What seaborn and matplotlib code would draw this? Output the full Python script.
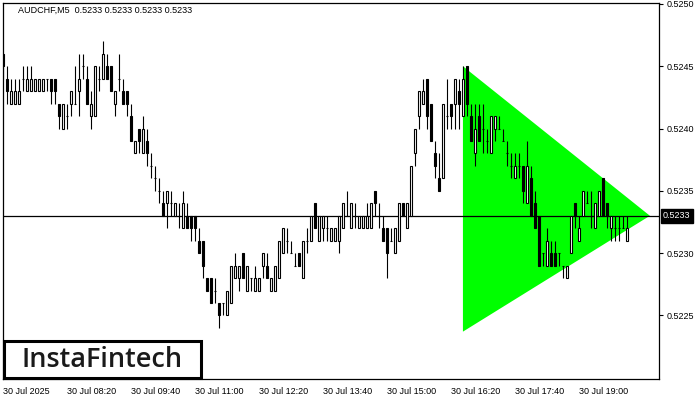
import numpy as np
import pandas as pd
import matplotlib
matplotlib.use("Agg")
import matplotlib.pyplot as plt
import matplotlib.transforms as mtransforms
from matplotlib.patches import Rectangle
import seaborn as sns

# ---- data (prices in units of 0.0001) ----
header = "AUDCHF,M5  0.5233 0.5233 0.5233 0.5233"
opens = [5246, 5244, 5242, 5242, 5242, 5244, 5243, 5243, 5243, 5243, 5243, 5244, 5244, 5244, 5242, 5240,
         5241, 5242, 5242, 5243, 5245, 5244, 5241, 5241, 5244, 5244, 5245, 5245, 5242, 5244, 5243, 5243,
         5241, 5238, 5240, 5238, 5239, 5237, 5236, 5235, 5234, 5234, 5234, 5233, 5233, 5232, 5233, 5233,
         5233, 5231, 5231, 5228, 5228, 5227, 5226, 5226, 5225, 5226, 5228, 5228, 5230, 5227, 5228, 5227,
         5227, 5229, 5229, 5227, 5227, 5228, 5230, 5231, 5230, 5229, 5230, 5228, 5231, 5231, 5234, 5231,
         5232, 5232, 5231, 5231, 5231, 5232, 5233, 5232, 5233, 5232, 5232, 5232, 5232, 5235, 5233, 5232,
         5232, 5231, 5230, 5231, 5234, 5232, 5233, 5238, 5241, 5242, 5244, 5242, 5238, 5236, 5236, 5241,
         5242, 5242, 5243, 5241, 5245, 5241, 5238, 5241, 5240, 5239, 5238, 5240, 5240, 5239, 5238, 5237,
         5236, 5237, 5237, 5234, 5236, 5234, 5233, 5230, 5229, 5230, 5230, 5230, 5229, 5228, 5230, 5234,
         5231, 5233, 5234, 5233, 5232, 5233, 5236, 5234, 5232, 5232, 5232, 5232, 5231]
highs = [5246, 5245, 5244, 5244, 5244, 5245, 5245, 5245, 5244, 5244, 5244, 5244, 5244, 5244, 5242, 5242,
         5242, 5243, 5245, 5246, 5246, 5245, 5243, 5245, 5245, 5247, 5246, 5245, 5243, 5246, 5244, 5243,
         5242, 5239, 5240, 5241, 5240, 5238, 5237, 5236, 5235, 5235, 5235, 5234, 5234, 5235, 5234, 5233,
         5233, 5232, 5231, 5228, 5228, 5228, 5226, 5226, 5227, 5229, 5230, 5229, 5230, 5229, 5228, 5229,
         5228, 5230, 5230, 5228, 5229, 5231, 5232, 5232, 5231, 5230, 5230, 5231, 5232, 5233, 5234, 5233,
         5233, 5233, 5232, 5232, 5233, 5234, 5235, 5234, 5234, 5233, 5233, 5234, 5234, 5235, 5234, 5233,
         5232, 5232, 5232, 5234, 5234, 5234, 5237, 5240, 5243, 5244, 5244, 5242, 5239, 5238, 5242, 5244,
         5242, 5244, 5244, 5245, 5245, 5242, 5242, 5242, 5242, 5240, 5241, 5241, 5241, 5240, 5239, 5238,
         5238, 5238, 5237, 5239, 5237, 5235, 5233, 5230, 5232, 5231, 5231, 5230, 5229, 5229, 5233, 5234,
         5233, 5235, 5235, 5235, 5234, 5235, 5236, 5234, 5233, 5233, 5233, 5233, 5233]
lows = [5244, 5242, 5242, 5242, 5242, 5243, 5243, 5243, 5243, 5243, 5243, 5243, 5242, 5242, 5240, 5240,
        5240, 5241, 5242, 5241, 5244, 5242, 5240, 5241, 5243, 5244, 5244, 5243, 5241, 5243, 5242, 5241,
        5239, 5238, 5238, 5238, 5237, 5236, 5235, 5234, 5233, 5232, 5233, 5233, 5232, 5232, 5232, 5231,
        5231, 5230, 5228, 5227, 5226, 5226, 5224, 5225, 5225, 5226, 5228, 5227, 5228, 5227, 5227, 5227,
        5227, 5228, 5228, 5227, 5227, 5228, 5230, 5230, 5230, 5229, 5229, 5228, 5230, 5231, 5232, 5231,
        5231, 5231, 5231, 5231, 5230, 5232, 5233, 5232, 5232, 5232, 5232, 5232, 5232, 5233, 5232, 5231,
        5228, 5231, 5230, 5231, 5233, 5232, 5233, 5237, 5240, 5242, 5240, 5239, 5236, 5235, 5236, 5240,
        5240, 5240, 5240, 5241, 5241, 5239, 5237, 5239, 5238, 5238, 5238, 5239, 5240, 5239, 5237, 5236,
        5236, 5236, 5234, 5234, 5233, 5232, 5229, 5229, 5229, 5229, 5229, 5229, 5228, 5228, 5230, 5232,
        5231, 5233, 5234, 5232, 5232, 5233, 5233, 5232, 5231, 5231, 5231, 5232, 5231]
closes = [5245, 5243, 5243, 5243, 5243, 5244, 5244, 5244, 5244, 5244, 5244, 5244, 5243, 5243, 5241, 5242,
          5241, 5243, 5242, 5244, 5245, 5242, 5242, 5245, 5244, 5246, 5244, 5243, 5243, 5244, 5242, 5242,
          5239, 5239, 5239, 5240, 5238, 5237, 5236, 5235, 5233, 5235, 5234, 5234, 5233, 5234, 5232, 5232,
          5232, 5230, 5229, 5227, 5226, 5227, 5225, 5226, 5227, 5229, 5229, 5229, 5228, 5229, 5228, 5228,
          5228, 5230, 5228, 5228, 5229, 5231, 5232, 5231, 5230, 5229, 5229, 5231, 5231, 5233, 5232, 5233,
          5233, 5232, 5232, 5232, 5233, 5234, 5233, 5234, 5233, 5233, 5233, 5233, 5234, 5234, 5233, 5231,
          5230, 5231, 5232, 5234, 5233, 5234, 5237, 5240, 5243, 5243, 5241, 5239, 5237, 5235, 5242, 5241,
          5241, 5244, 5242, 5244, 5242, 5239, 5240, 5239, 5240, 5239, 5241, 5241, 5240, 5239, 5238, 5237,
          5237, 5237, 5235, 5237, 5233, 5232, 5229, 5230, 5231, 5229, 5229, 5230, 5229, 5229, 5233, 5233,
          5232, 5235, 5234, 5233, 5234, 5235, 5233, 5233, 5233, 5232, 5232, 5232, 5232]
tick_bars = [0, 16, 32, 48, 64, 80, 96, 112, 128, 144]
tick_labels = ["30 Jul 2025", "30 Jul 08:20", "30 Jul 09:40", "30 Jul 11:00", "30 Jul 12:20",
               "30 Jul 13:40", "30 Jul 15:00", "30 Jul 16:20", "30 Jul 17:40", "30 Jul 19:00"]
y_ticks = [0.5225, 0.5230, 0.5235, 0.5240, 0.5245, 0.5250]
last_price = 0.5233
tri_x = [115, 115, 161.75]
tri_y = [0.5245, 0.52237, 0.5233]
logo = "InstaFintech"

df = pd.DataFrame({"open": np.array(opens) / 1e4, "high": np.array(highs) / 1e4,
                   "low": np.array(lows) / 1e4, "close": np.array(closes) / 1e4})
df["bar"] = np.arange(len(df))

sns.set_style("white")
plt.rcParams['font.family'] = ['Liberation Sans', 'DejaVu Sans']

fig = plt.figure(figsize=(7, 4), dpi=100)
ax = fig.add_axes([2.5 / 700, 21 / 400, 656.8 / 700, 376.3 / 400])

# triangle pattern
ax.fill(tri_x, tri_y, color="#00FF00", lw=0, zorder=1)
# bid line
ax.axhline(last_price, color="black", lw=0.9, zorder=2)

# wicks
ax.vlines(df["bar"], df["low"], df["high"], color="black", lw=0.8, zorder=3)
up = df["close"] >= df["open"]
dn = ~up
ax.bar(df.loc[up, "bar"], df.loc[up, "close"] - df.loc[up, "open"], bottom=df.loc[up, "open"],
       width=0.5, facecolor="white", edgecolor="black", lw=0.8, zorder=4)
ax.bar(df.loc[dn, "bar"], df.loc[dn, "close"] - df.loc[dn, "open"], bottom=df.loc[dn, "open"],
       width=0.5, facecolor="black", edgecolor="black", lw=0.8, zorder=4)

ax.set_xlim(-0.125, 164.1)
ax.set_ylim(0.52199, 0.52501)

ax.yaxis.tick_right()
ax.set_yticks(y_ticks)
ax.set_yticklabels([f"{v:.4f}" for v in y_ticks])
ax.set_xticks(tick_bars)
ax.set_xticklabels(tick_labels, ha="left")
ax.tick_params(axis="both", direction="out", length=3, width=0.8, labelsize=6.5, pad=2,
               color="black", labelcolor="black")
ax.tick_params(axis="x", pad=3)
for s in ax.spines.values():
    s.set_color("black")
    s.set_linewidth(0.9)
    s.set_visible(True)

# price label on right axis
trans = mtransforms.blended_transform_factory(ax.transAxes, ax.transData)
ax.text(1.0 + 3.5 / 656.8, last_price, f"{last_price:.4f}", transform=trans, color="white",
        fontsize=6.5, va="center", ha="left",
        bbox=dict(boxstyle="square,pad=0.25", fc="black", ec="black"), zorder=10, clip_on=False)

# header
fig.text(18 / 700, 1 - 10 / 400, header, fontsize=6.5, va="center", ha="left", color="black")

# logo box
fig.add_artist(Rectangle((4 / 700, 22.5 / 400), 196.5 / 700, 36.5 / 400, transform=fig.transFigure,
                         facecolor="white", edgecolor="black", lw=2.2, zorder=20))
fig.text(102 / 700, 1 - 360 / 400, logo, fontsize=19.5, va="center", ha="center",
         family=["Open Sans", "DejaVu Sans"], fontweight="semibold", color="#1a1a1a", zorder=21)

fig.savefig("out.png", dpi=100)
